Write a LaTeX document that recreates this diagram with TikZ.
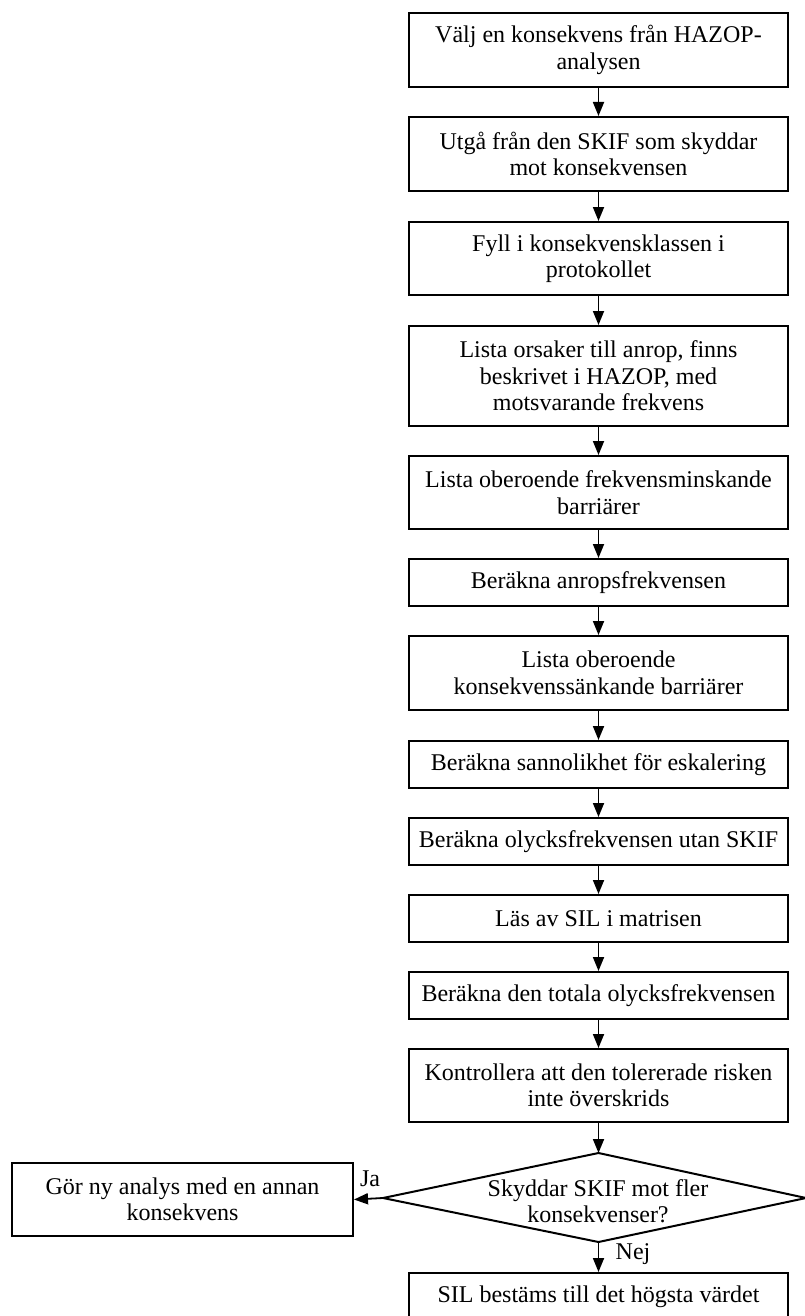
\documentclass[tikz,border=0pt]{standalone}
\usepackage{fontspec}
\setmainfont{Liberation Serif}
\usetikzlibrary{arrows.meta}
\begin{document}
\begin{tikzpicture}[x=1pt,y=-1pt,
  stepbox/.style={draw, line width=2pt, minimum width=379pt, inner sep=0pt,
    align=center, font=\fontsize{24}{26.5}\selectfont},
  flow/.style={line width=1.8pt, -{Triangle[length=14pt,width=11pt]}},
  lbl/.style={inner sep=0pt, font=\fontsize{24}{26.5}\selectfont}]
\useasboundingbox (0,0) rectangle (805,1316);

% main column of process steps
\node[stepbox, minimum height=74pt] (b1) at (598.5,50) {Välj en konsekvens från HAZOP-\\analysen};
\node[stepbox, minimum height=74pt] (b2) at (598.5,154) {Utgå från den SKIF som skyddar\\mot konsekvensen};
\node[stepbox, minimum height=73pt] (b3) at (598.5,258.5) {Fyll i konsekvensklassen i\\protokollet};
\node[stepbox, minimum height=100pt] (b4) at (598.5,376) {Lista orsaker till anrop, finns\\beskrivet i HAZOP, med\\motsvarande frekvens};
\node[stepbox, minimum height=73pt] (b5) at (598.5,492.5) {Lista oberoende frekvensminskande\\barriärer};
\node[stepbox, minimum height=47pt] (b6) at (598.5,582.5) {Beräkna anropsfrekvensen};
\node[stepbox, minimum height=74pt] (b7) at (598.5,673) {Lista oberoende\\konsekvenssänkande barriärer};
\node[stepbox, minimum height=47pt] (b8) at (598.5,764.5) {Beräkna sannolikhet för eskalering};
\node[stepbox, minimum height=47pt] (b9) at (598.5,841.5) {Beräkna olycksfrekvensen utan SKIF};
\node[stepbox, minimum height=47pt] (b10) at (598.5,918.5) {Läs av SIL i matrisen};
\node[stepbox, minimum height=47pt] (b11) at (598.5,995.5) {Beräkna den totala olycksfrekvensen};
\node[stepbox, minimum height=73pt] (b12) at (598.5,1085.5) {Kontrollera att den tolererade risken\\inte överskrids};

% decision
\coordinate (dtop) at (598.5,1153);
\coordinate (dleft) at (383,1198);
\coordinate (dbottom) at (598.5,1242);
\coordinate (dright) at (806,1198);
\draw[line width=2pt, line join=miter] (dtop) -- (dright) -- (dbottom) -- (dleft) -- cycle;
\node[lbl, align=center] (dq) at (598,1201) {Skyddar SKIF mot fler\\konsekvenser?};

% outcomes
\node[stepbox, minimum width=341pt, minimum height=73pt] (redo) at (182.5,1199.5) {Gör ny analys med en annan\\konsekvens};
\node[stepbox, minimum height=47pt] (final) at (598.5,1296.5) {SIL bestäms till det högsta värdet};

% connectors
\foreach \a/\b in {b1/b2,b2/b3,b3/b4,b4/b5,b5/b6,b6/b7,b7/b8,b8/b9,b9/b10,b10/b11,b11/b12}
  \draw[flow] (\a.south) -- (\b.north);
\draw[flow] (b12.south) -- (dtop);
\draw[flow] (dleft) -- (redo.east);
\draw[flow] (dbottom) -- (final.north);

\node[lbl] (ja) at (370,1179) {Ja};
\node[lbl] (nej) at (633,1254) {Nej};
\end{tikzpicture}
\end{document}
